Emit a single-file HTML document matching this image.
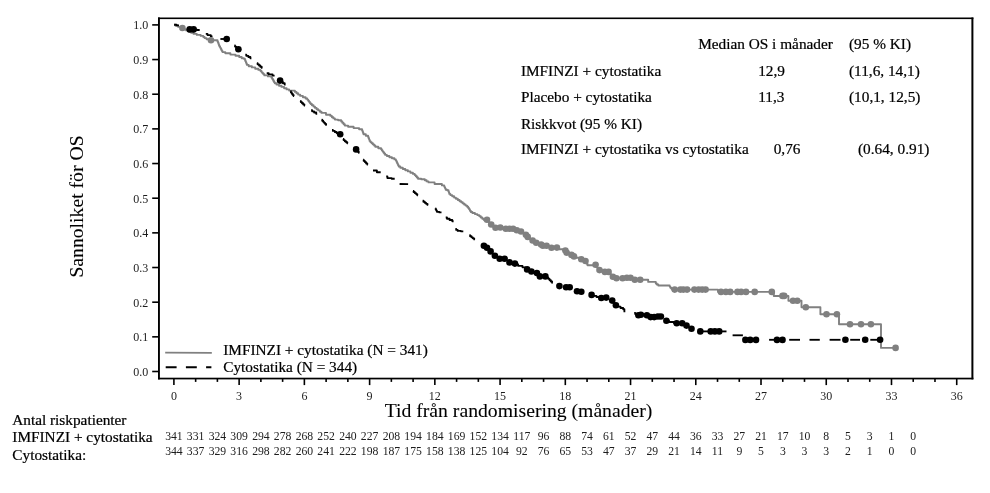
<!DOCTYPE html>
<html><head><meta charset="utf-8"><title>KM OS</title>
<style>html,body{margin:0;padding:0;background:#fff}body{width:990px;height:493px;overflow:hidden}svg{display:block;will-change:transform}text{font-family:"Liberation Serif",serif}.b{fill:#000;stroke:#000;stroke-width:0.22px}.t{fill:#1c1c1c;stroke:none}.h{fill:#000;stroke:#000;stroke-width:0.08px}</style></head><body>
<svg width="990" height="493" viewBox="0 0 990 493">
<rect width="990" height="493" fill="#fff"/>
<g fill="#000"><rect x="158.00" y="17.50" width="1.9" height="361.90"/><rect x="971.40" y="17.50" width="2.0" height="361.90"/><rect x="158.00" y="17.50" width="815.40" height="1.6"/><rect x="158.00" y="377.70" width="815.40" height="1.7"/></g>
<g stroke="#000" stroke-width="1.6">
<line x1="152.2" y1="371.50" x2="159.0" y2="371.50"/>
<line x1="152.2" y1="336.84" x2="159.0" y2="336.84"/>
<line x1="152.2" y1="302.18" x2="159.0" y2="302.18"/>
<line x1="152.2" y1="267.52" x2="159.0" y2="267.52"/>
<line x1="152.2" y1="232.86" x2="159.0" y2="232.86"/>
<line x1="152.2" y1="198.20" x2="159.0" y2="198.20"/>
<line x1="152.2" y1="163.54" x2="159.0" y2="163.54"/>
<line x1="152.2" y1="128.88" x2="159.0" y2="128.88"/>
<line x1="152.2" y1="94.22" x2="159.0" y2="94.22"/>
<line x1="152.2" y1="59.56" x2="159.0" y2="59.56"/>
<line x1="152.2" y1="24.90" x2="159.0" y2="24.90"/>
<line x1="173.90" y1="378.6" x2="173.90" y2="385.1"/>
<line x1="195.65" y1="378.6" x2="195.65" y2="381.9"/>
<line x1="217.39" y1="378.6" x2="217.39" y2="381.9"/>
<line x1="239.13" y1="378.6" x2="239.13" y2="385.1"/>
<line x1="260.88" y1="378.6" x2="260.88" y2="381.9"/>
<line x1="282.62" y1="378.6" x2="282.62" y2="381.9"/>
<line x1="304.37" y1="378.6" x2="304.37" y2="385.1"/>
<line x1="326.12" y1="378.6" x2="326.12" y2="381.9"/>
<line x1="347.86" y1="378.6" x2="347.86" y2="381.9"/>
<line x1="369.61" y1="378.6" x2="369.61" y2="385.1"/>
<line x1="391.35" y1="378.6" x2="391.35" y2="381.9"/>
<line x1="413.10" y1="378.6" x2="413.10" y2="381.9"/>
<line x1="434.84" y1="378.6" x2="434.84" y2="385.1"/>
<line x1="456.59" y1="378.6" x2="456.59" y2="381.9"/>
<line x1="478.33" y1="378.6" x2="478.33" y2="381.9"/>
<line x1="500.08" y1="378.6" x2="500.08" y2="385.1"/>
<line x1="521.82" y1="378.6" x2="521.82" y2="381.9"/>
<line x1="543.57" y1="378.6" x2="543.57" y2="381.9"/>
<line x1="565.31" y1="378.6" x2="565.31" y2="385.1"/>
<line x1="587.06" y1="378.6" x2="587.06" y2="381.9"/>
<line x1="608.80" y1="378.6" x2="608.80" y2="381.9"/>
<line x1="630.55" y1="378.6" x2="630.55" y2="385.1"/>
<line x1="652.29" y1="378.6" x2="652.29" y2="381.9"/>
<line x1="674.04" y1="378.6" x2="674.04" y2="381.9"/>
<line x1="695.78" y1="378.6" x2="695.78" y2="385.1"/>
<line x1="717.52" y1="378.6" x2="717.52" y2="381.9"/>
<line x1="739.27" y1="378.6" x2="739.27" y2="381.9"/>
<line x1="761.01" y1="378.6" x2="761.01" y2="385.1"/>
<line x1="782.76" y1="378.6" x2="782.76" y2="381.9"/>
<line x1="804.50" y1="378.6" x2="804.50" y2="381.9"/>
<line x1="826.25" y1="378.6" x2="826.25" y2="385.1"/>
<line x1="848.00" y1="378.6" x2="848.00" y2="381.9"/>
<line x1="869.74" y1="378.6" x2="869.74" y2="381.9"/>
<line x1="891.49" y1="378.6" x2="891.49" y2="385.1"/>
<line x1="913.23" y1="378.6" x2="913.23" y2="381.9"/>
<line x1="934.98" y1="378.6" x2="934.98" y2="381.9"/>
<line x1="956.72" y1="378.6" x2="956.72" y2="385.1"/>
</g>
<g font-size="12" text-anchor="end" class="t">
<text x="148.3" y="375.9">0.0</text>
<text x="148.3" y="341.2">0.1</text>
<text x="148.3" y="306.6">0.2</text>
<text x="148.3" y="271.9">0.3</text>
<text x="148.3" y="237.3">0.4</text>
<text x="148.3" y="202.6">0.5</text>
<text x="148.3" y="167.9">0.6</text>
<text x="148.3" y="133.3">0.7</text>
<text x="148.3" y="98.6">0.8</text>
<text x="148.3" y="64.0">0.9</text>
<text x="148.3" y="29.3">1.0</text>
</g>
<g font-size="12" text-anchor="middle" class="t">
<text x="173.9" y="399.6">0</text>
<text x="239.1" y="399.6">3</text>
<text x="304.4" y="399.6">6</text>
<text x="369.6" y="399.6">9</text>
<text x="434.8" y="399.6">12</text>
<text x="500.1" y="399.6">15</text>
<text x="565.3" y="399.6">18</text>
<text x="630.5" y="399.6">21</text>
<text x="695.8" y="399.6">24</text>
<text x="761.0" y="399.6">27</text>
<text x="826.2" y="399.6">30</text>
<text x="891.5" y="399.6">33</text>
<text x="956.7" y="399.6">36</text>
</g>
<text class="h" font-size="19.7" transform="translate(83.2,206.5) rotate(-90)" text-anchor="middle">Sannoliket för OS</text>
<text class="h" font-size="19.7" x="384.7" y="417.2">Tid från randomisering (månader)</text>
<g class="b" font-size="15.3">
<text x="698.2" y="48.7">Median OS i månader</text>
<text x="849" y="48.7">(95 % KI)</text>
<text x="520.9" y="75.5">IMFINZI + cytostatika</text>
<text x="758.2" y="75.5">12,9</text>
<text x="849" y="75.5">(11,6, 14,1)</text>
<text x="520.9" y="101.6">Placebo + cytostatika</text>
<text x="758.2" y="101.6">11,3</text>
<text x="849" y="101.6">(10,1, 12,5)</text>
<text x="520.9" y="128.8">Riskkvot (95 % KI)</text>
<text x="520.9" y="154.4">IMFINZI + cytostatika vs cytostatika</text>
<text x="773.7" y="154.4">0,76</text>
<text x="858" y="154.4">(0.64, 0.91)</text>
<text x="223.2" y="354.9">IMFINZI + cytostatika (N = 341)</text>
<text x="223.2" y="371.6">Cytostatika (N = 344)</text>
<text x="12.2" y="425.3">Antal riskpatienter</text>
<text x="12.3" y="441.9">IMFINZI + cytostatika</text>
<text x="12.3" y="459.9">Cytostatika:</text>
</g>
<g font-size="11.7" text-anchor="middle" class="t">
<text x="173.9" y="440.0">341</text><text x="173.9" y="454.7">344</text>
<text x="195.6" y="440.0">331</text><text x="195.6" y="454.7">337</text>
<text x="217.4" y="440.0">324</text><text x="217.4" y="454.7">329</text>
<text x="239.1" y="440.0">309</text><text x="239.1" y="454.7">316</text>
<text x="260.9" y="440.0">294</text><text x="260.9" y="454.7">298</text>
<text x="282.6" y="440.0">278</text><text x="282.6" y="454.7">282</text>
<text x="304.4" y="440.0">268</text><text x="304.4" y="454.7">260</text>
<text x="326.1" y="440.0">252</text><text x="326.1" y="454.7">241</text>
<text x="347.9" y="440.0">240</text><text x="347.9" y="454.7">222</text>
<text x="369.6" y="440.0">227</text><text x="369.6" y="454.7">198</text>
<text x="391.4" y="440.0">208</text><text x="391.4" y="454.7">187</text>
<text x="413.1" y="440.0">194</text><text x="413.1" y="454.7">175</text>
<text x="434.8" y="440.0">184</text><text x="434.8" y="454.7">158</text>
<text x="456.6" y="440.0">169</text><text x="456.6" y="454.7">138</text>
<text x="478.3" y="440.0">152</text><text x="478.3" y="454.7">125</text>
<text x="500.1" y="440.0">134</text><text x="500.1" y="454.7">104</text>
<text x="521.8" y="440.0">117</text><text x="521.8" y="454.7">92</text>
<text x="543.6" y="440.0">96</text><text x="543.6" y="454.7">76</text>
<text x="565.3" y="440.0">88</text><text x="565.3" y="454.7">65</text>
<text x="587.1" y="440.0">74</text><text x="587.1" y="454.7">53</text>
<text x="608.8" y="440.0">61</text><text x="608.8" y="454.7">47</text>
<text x="630.5" y="440.0">52</text><text x="630.5" y="454.7">37</text>
<text x="652.3" y="440.0">47</text><text x="652.3" y="454.7">29</text>
<text x="674.0" y="440.0">44</text><text x="674.0" y="454.7">21</text>
<text x="695.8" y="440.0">36</text><text x="695.8" y="454.7">14</text>
<text x="717.5" y="440.0">33</text><text x="717.5" y="454.7">11</text>
<text x="739.3" y="440.0">27</text><text x="739.3" y="454.7">9</text>
<text x="761.0" y="440.0">21</text><text x="761.0" y="454.7">5</text>
<text x="782.8" y="440.0">17</text><text x="782.8" y="454.7">3</text>
<text x="804.5" y="440.0">10</text><text x="804.5" y="454.7">3</text>
<text x="826.2" y="440.0">8</text><text x="826.2" y="454.7">3</text>
<text x="848.0" y="440.0">5</text><text x="848.0" y="454.7">2</text>
<text x="869.7" y="440.0">3</text><text x="869.7" y="454.7">1</text>
<text x="891.5" y="440.0">1</text><text x="891.5" y="454.7">0</text>
<text x="913.2" y="440.0">0</text><text x="913.2" y="454.7">0</text>
</g>
<line x1="165.2" y1="352.7" x2="211.8" y2="352.8" stroke="#808080" stroke-width="1.8"/>
<line x1="165.7" y1="367.3" x2="211.4" y2="367.3" stroke="#000" stroke-width="1.95" stroke-dasharray="10.9 9.3"/>
<polyline fill="none" stroke="#808080" stroke-width="1.9" stroke-linejoin="round" points="174.1,24.7 175.5,24.7 175.5,25.8 178.2,25.8 178.2,26.9 181.0,26.9 181.0,28.0 182.4,28.0 183.6,28.0 183.6,29.2 186.1,29.2 186.1,30.4 188.6,30.4 188.6,31.5 191.1,31.5 191.1,32.7 193.6,32.7 193.6,33.9 194.8,33.9 196.8,33.9 196.8,34.9 200.7,34.9 200.7,35.9 202.7,35.9 203.3,35.9 203.3,37.0 204.6,37.0 204.6,38.1 205.2,38.1 206.6,38.1 206.6,39.2 209.6,39.2 209.6,40.2 211.0,40.2 217.3,40.2 217.5,40.2 217.5,41.5 218.0,41.5 218.0,42.8 218.5,42.8 218.5,44.1 219.0,44.1 219.0,45.4 219.2,45.4 219.5,45.4 219.5,46.5 220.1,46.5 220.1,47.6 220.7,47.6 220.7,48.8 221.3,48.8 221.3,49.9 221.9,49.9 221.9,51.0 222.5,51.0 222.5,52.1 222.8,52.1 225.3,52.1 225.3,53.3 230.4,53.3 230.4,54.6 235.5,54.6 235.5,55.8 238.0,55.8 239.2,55.8 239.2,57.0 241.7,57.0 241.7,58.2 242.9,58.2 243.8,58.2 243.8,58.8 244.7,58.8 244.9,58.8 244.9,60.0 245.4,60.0 245.4,61.2 245.9,61.2 245.9,62.5 246.4,62.5 246.4,63.7 246.9,63.7 246.9,64.9 247.1,64.9 248.7,64.9 248.7,66.2 251.9,66.2 251.9,67.4 255.2,67.4 255.2,68.7 258.4,68.7 258.4,69.9 260.0,69.9 260.5,69.9 260.5,71.0 261.5,71.0 261.5,72.1 262.4,72.1 262.4,73.2 263.4,73.2 263.4,74.3 264.4,74.3 264.4,75.4 264.9,75.4 267.9,75.4 267.9,76.4 271.0,76.4 271.4,76.4 271.4,77.6 272.1,77.6 272.1,78.7 272.8,78.7 272.8,79.8 273.4,79.8 273.4,81.0 274.1,81.0 274.1,82.2 274.8,82.2 274.8,83.3 275.2,83.3 276.5,83.3 276.5,84.5 279.0,84.5 279.0,85.7 281.5,85.7 281.5,86.9 284.1,86.9 284.1,88.2 286.6,88.2 286.6,89.4 289.1,89.4 289.1,90.6 290.4,90.6 294.1,90.6 294.9,90.6 294.9,91.9 296.5,91.9 296.5,93.3 298.1,93.3 298.1,94.6 298.9,94.6 300.2,94.6 300.2,95.9 302.9,95.9 302.9,97.2 305.6,97.2 305.6,98.5 306.9,98.5 307.3,98.5 307.3,99.6 308.2,99.6 308.2,100.7 309.0,100.7 309.0,101.8 309.8,101.8 309.8,102.9 310.7,102.9 310.7,104.0 311.1,104.0 311.9,104.0 311.9,105.3 313.5,105.3 313.5,106.6 315.0,106.6 315.0,107.9 316.6,107.9 316.6,109.2 317.4,109.2 318.2,109.2 318.2,110.4 319.9,110.4 319.9,111.7 321.5,111.7 321.5,112.9 322.3,112.9 326.0,112.9 326.0,114.7 329.6,114.7 330.4,114.7 330.4,115.9 331.9,115.9 331.9,117.2 333.4,117.2 333.4,118.4 334.9,118.4 334.9,119.6 335.7,119.6 338.1,119.6 338.1,120.2 340.6,120.2 341.2,120.2 341.2,121.5 342.4,121.5 342.4,122.9 343.6,122.9 343.6,124.2 344.8,124.2 344.8,125.6 345.4,125.6 348.1,125.6 348.1,126.8 353.6,126.8 353.6,128.1 359.1,128.1 359.1,129.3 361.9,129.3 362.1,129.3 362.1,130.5 362.6,130.5 362.6,131.8 363.0,131.8 363.0,133.0 363.5,133.0 363.5,134.2 363.7,134.2 365.8,134.2 365.8,135.7 367.9,135.7 368.1,135.7 368.1,137.0 368.6,137.0 368.6,138.3 369.1,138.3 369.1,139.6 369.6,139.6 369.6,140.9 369.8,140.9 370.4,140.9 370.4,142.1 371.6,142.1 371.6,143.2 372.9,143.2 372.9,144.4 374.1,144.4 374.1,145.5 375.3,145.5 375.3,146.7 375.9,146.7 378.3,146.7 378.3,148.2 380.7,148.2 381.1,148.2 381.1,149.3 381.9,149.3 381.9,150.4 382.7,150.4 382.7,151.6 383.6,151.6 383.6,152.7 384.4,152.7 384.4,153.8 385.2,153.8 385.2,154.9 385.6,154.9 386.9,154.9 386.9,156.0 389.4,156.0 389.4,157.2 391.9,157.2 391.9,158.3 394.4,158.3 394.4,159.4 395.6,159.4 395.9,159.4 395.9,160.6 396.5,160.6 396.5,161.8 397.0,161.8 397.0,162.9 397.6,162.9 397.6,164.1 398.1,164.1 398.1,165.3 398.7,165.3 398.7,166.5 399.0,166.5 400.3,166.5 400.3,167.7 402.8,167.7 402.8,169.0 405.3,169.0 405.3,170.2 407.9,170.2 407.9,171.4 410.4,171.4 410.4,172.7 412.9,172.7 412.9,173.9 414.2,173.9 414.7,173.9 414.7,175.1 415.8,175.1 415.8,176.3 416.9,176.3 416.9,177.5 418.0,177.5 418.0,178.7 418.5,178.7 421.2,178.7 421.2,179.3 423.9,179.3 424.8,179.3 424.8,180.3 426.6,180.3 426.6,181.4 428.5,181.4 428.5,182.4 429.4,182.4 434.6,182.4 434.6,184.0 439.8,184.0 441.9,184.0 441.9,185.4 444.0,185.4 444.2,185.4 444.2,186.5 444.7,186.5 444.7,187.6 445.2,187.6 445.2,188.6 445.7,188.6 445.7,189.7 445.9,189.7 447.1,189.7 447.1,190.3 448.3,190.3 448.5,190.3 448.5,191.5 448.9,191.5 448.9,192.7 449.3,192.7 449.3,193.9 449.5,193.9 450.4,193.9 450.4,195.1 452.2,195.1 452.2,196.3 454.1,196.3 454.1,197.6 455.9,197.6 455.9,198.8 457.8,198.8 457.8,200.0 459.6,200.0 459.6,201.2 460.5,201.2 461.2,201.2 461.2,202.3 462.7,202.3 462.7,203.4 464.1,203.4 464.1,204.5 465.6,204.5 465.6,205.6 467.1,205.6 467.1,206.7 467.8,206.7 468.2,206.7 468.2,208.0 469.1,208.0 469.1,209.3 469.9,209.3 469.9,210.7 470.8,210.7 470.8,212.0 471.2,212.0 472.4,212.0 472.4,213.0 474.9,213.0 474.9,214.1 477.3,214.1 477.3,215.1 478.5,215.1 479.3,215.1 479.3,216.3 480.8,216.3 480.8,217.5 482.3,217.5 482.3,218.7 483.8,218.7 483.8,219.9 484.6,219.9 487.0,219.9 487.5,219.9 487.5,221.1 488.6,221.1 488.6,222.2 489.6,222.2 489.6,223.3 490.7,223.3 490.7,224.5 491.2,224.5 491.9,224.5 491.9,225.6 493.4,225.6 493.4,226.7 494.8,226.7 494.8,227.8 495.5,227.8 500.3,227.8 503.1,227.8 503.1,228.7 505.8,228.7 513.1,228.7 515.0,228.7 515.0,230.2 516.8,230.2 518.9,230.2 518.9,231.5 521.0,231.5 521.8,231.5 521.8,232.6 523.5,232.6 523.5,233.7 525.1,233.7 525.1,234.8 525.9,234.8 526.4,234.8 526.4,235.9 527.2,235.9 527.2,236.9 527.7,236.9 528.5,236.9 528.5,238.1 530.2,238.1 530.2,239.3 531.8,239.3 531.8,240.5 532.6,240.5 533.5,240.5 533.5,241.6 535.3,241.6 535.3,242.7 536.2,242.7 537.4,242.7 537.4,243.6 539.9,243.6 539.9,244.6 541.1,244.6 542.0,244.6 542.0,245.8 542.9,245.8 546.6,245.8 547.8,245.8 547.8,246.8 550.3,246.8 550.3,247.8 551.5,247.8 556.9,247.8 559.0,247.8 559.0,249.2 563.3,249.2 563.3,250.6 565.4,250.6 565.7,250.6 565.7,251.6 566.4,251.6 566.4,252.7 566.7,252.7 567.9,252.7 567.9,253.8 570.3,253.8 570.3,254.9 571.5,254.9 572.8,254.9 572.8,256.4 574.0,256.4 575.8,256.4 575.8,257.8 579.5,257.8 579.5,259.2 581.3,259.2 582.3,259.2 582.3,260.1 584.5,260.1 584.5,261.0 585.5,261.0 585.9,261.0 585.9,262.4 586.7,262.4 586.7,263.8 587.5,263.8 587.5,265.2 587.9,265.2 595.6,265.2 596.1,265.2 596.1,266.4 597.1,266.4 597.1,267.6 598.0,267.6 598.0,268.9 599.0,268.9 599.0,270.1 599.5,270.1 602.2,270.1 602.2,271.9 604.9,271.9 608.6,271.9 609.1,271.9 609.1,273.1 610.2,273.1 610.2,274.4 611.3,274.4 611.3,275.6 612.4,275.6 612.4,276.8 612.9,276.8 614.7,276.8 614.7,278.2 616.5,278.2 622.6,278.2 626.9,278.2 630.5,278.2 632.6,278.2 632.6,279.8 634.8,279.8 648.2,279.8 648.2,281.9 655.5,281.9 655.8,281.9 655.8,283.5 656.0,283.5 656.8,283.5 656.8,284.5 658.3,284.5 658.3,285.5 659.1,285.5 669.4,285.5 669.7,285.5 669.7,286.6 670.4,286.6 670.4,287.7 670.7,287.7 671.2,287.7 671.2,288.6 672.0,288.6 672.0,289.6 672.5,289.6 718.0,289.6 718.0,291.9 773.8,291.9 773.8,296.0 788.4,296.0 788.4,300.7 801.5,300.7 801.5,307.2 820.4,307.2 820.4,314.2 839.0,314.2 839.0,324.2 881.0,324.2 881.0,347.9 895.6,347.9"/>
<g fill="none" stroke="#000" stroke-width="1.85" stroke-linejoin="round">
<polyline points="174.1,24.7 176.6,24.7 176.6,25.3 179.0,25.3"/>
<polyline points="193.6,29.4 196.6,29.4 196.6,30.0 199.7,30.0"/>
<polyline points="205.8,33.9 207.5,33.9 207.5,35.1 210.8,35.1 210.8,36.3 212.5,36.3"/>
<polyline points="220.4,39.0 226.7,39.0"/>
<polyline points="234.4,45.4 235.0,45.4 235.0,46.6 236.2,46.6 236.2,47.9 236.8,47.9"/>
<polyline points="245.3,54.6 246.3,54.6 246.3,55.8 248.4,55.8 248.4,57.0 250.4,57.0 250.4,58.2 251.4,58.2"/>
<polyline points="256.9,63.1 257.6,63.1 257.6,64.3 259.0,64.3 259.0,65.5 260.3,65.5 260.3,66.7 261.7,66.7 261.7,67.9 262.4,67.9"/>
<polyline points="266.7,73.2 268.7,73.2 268.7,74.4 272.6,74.4 272.6,75.6 274.6,75.6"/>
<polyline points="280.1,80.6 281.0,80.6 281.0,81.9 282.9,81.9 282.9,83.2 284.7,83.2 284.7,84.5 285.6,84.5"/>
<polyline points="290.4,91.2 290.9,91.2 290.9,92.4 291.8,92.4 291.8,93.7 292.7,93.7 292.7,94.9 293.6,94.9 293.6,96.1 294.1,96.1"/>
<polyline points="300.2,100.9 300.8,100.9 300.8,102.1 302.0,102.1 302.0,103.2 303.2,103.2 303.2,104.4 304.4,104.4 304.4,105.6 305.0,105.6"/>
<polyline points="311.1,110.1 312.1,110.1 312.1,111.3 314.1,111.3 314.1,112.5 316.2,112.5 316.2,113.7 317.2,113.7"/>
<polyline points="321.7,119.6 322.2,119.6 322.2,120.7 323.2,120.7 323.2,121.8 324.1,121.8 324.1,122.8 325.1,122.8 325.1,123.9 326.1,123.9 326.1,125.0 326.6,125.0"/>
<polyline points="332.0,129.9 332.9,129.9 332.9,130.9 334.8,130.9 334.8,132.0 336.6,132.0 336.6,133.0 337.5,133.0 338.9,133.0 338.9,134.2 340.2,134.2"/>
<polyline points="343.0,139.0 343.6,139.0 343.6,140.1 344.8,140.1 344.8,141.2 346.1,141.2 346.1,142.2 347.3,142.2 347.3,143.3 347.9,143.3"/>
<polyline points="356.1,149.4 356.7,149.4 356.7,150.5 357.8,150.5 357.8,151.7 358.8,151.7 358.8,152.8 359.4,152.8"/>
<polyline points="363.1,159.7 363.7,159.7 363.7,160.9 364.9,160.9 364.9,162.1 366.1,162.1 366.1,163.4 367.3,163.4 367.3,164.6 367.9,164.6"/>
<polyline points="373.0,170.5 376.9,170.5 376.9,172.2 380.7,172.2"/>
<polyline points="386.2,176.3 387.4,176.3 387.4,178.1 388.7,178.1 391.7,178.1 391.7,178.7 394.7,178.7"/>
<polyline points="399.6,184.0 408.1,184.2"/>
<polyline points="413.0,190.9 413.6,190.9 413.6,192.0 414.8,192.0 414.8,193.1 416.1,193.1 416.1,194.1 417.3,194.1 417.3,195.2 417.9,195.2"/>
<polyline points="422.7,200.6 423.4,200.6 423.4,201.7 424.8,201.7 424.8,202.8 426.1,202.8 426.1,203.8 427.5,203.8 427.5,204.9 428.2,204.9"/>
<polyline points="435.4,208.3 435.7,208.3 435.7,209.5 436.3,209.5 436.3,210.6 436.9,210.6 436.9,211.8 437.2,211.8 439.4,211.8 439.4,212.4 441.5,212.4"/>
<polyline points="445.7,217.5 447.0,217.5 447.0,218.7 449.6,218.7 449.6,220.0 452.3,220.0 452.3,221.2 453.6,221.2"/>
<polyline points="455.4,228.8 456.2,228.8 456.2,229.9 457.7,229.9 457.7,230.9 458.5,230.9 460.9,230.9 460.9,231.3 463.3,231.3"/>
<polyline points="469.4,235.2 470.1,235.2 470.1,236.2 471.5,236.2 471.5,237.3 472.8,237.3 472.8,238.3 474.2,238.3 474.2,239.4 474.9,239.4"/>
<polyline points="516.0,264.5 518.2,264.5 518.2,265.9 522.5,265.9 522.5,267.3 524.7,267.3 525.3,267.3 525.3,268.4 526.5,268.4 526.5,269.4 527.1,269.4"/>
<polyline points="545.4,276.4 546.6,276.4 546.6,277.6 547.8,277.6 548.4,277.6 548.4,278.9 549.6,278.9 549.6,280.2 550.9,280.2 550.9,281.5 552.1,281.5 552.1,282.8 552.7,282.8"/>
<polyline points="591.6,294.9 593.2,294.9 593.2,295.9 596.5,295.9 596.5,297.0 599.7,297.0 599.7,298.0 601.3,298.0"/>
<polyline points="615.9,305.2 617.4,305.2 617.4,306.6 620.5,306.6 620.5,308.0 622.0,308.0 623.2,308.0 623.2,309.2 624.4,309.2 624.4,312.2"/>
<polyline points="634.2,312.9 635.2,312.9 635.2,314.1 637.4,314.1 637.4,315.3 638.4,315.3"/>
<polyline points="666.4,320.8 669.0,320.8 669.0,322.0 674.1,322.0 674.1,323.2 676.7,323.2"/>
<polyline points="700.3,331.4 726.5,331.4"/>
<polyline points="732.6,335.3 742.9,335.3"/>
<polyline points="769.1,339.8 782.5,339.8"/>
<polyline points="789.2,339.8 800.0,339.8"/>
<polyline points="809.5,339.8 819.8,339.8"/>
<polyline points="829.6,339.8 840.5,339.8"/>
<polyline points="850.2,339.8 860.0,339.8"/>
<polyline points="870.3,339.8 880.1,339.8"/>
</g>
<g fill="#808080">
<circle cx="182.4" cy="28.0" r="3.3"/>
<circle cx="211.0" cy="40.2" r="3.3"/>
<circle cx="487.0" cy="219.8" r="3.3"/>
<circle cx="491.2" cy="224.5" r="3.3"/>
<circle cx="495.5" cy="227.8" r="3.3"/>
<circle cx="500.3" cy="227.5" r="3.3"/>
<circle cx="505.8" cy="228.7" r="3.3"/>
<circle cx="509.5" cy="228.7" r="3.3"/>
<circle cx="513.1" cy="228.7" r="3.3"/>
<circle cx="516.8" cy="230.2" r="3.3"/>
<circle cx="521.0" cy="231.5" r="3.3"/>
<circle cx="525.9" cy="234.8" r="3.3"/>
<circle cx="527.7" cy="236.9" r="3.3"/>
<circle cx="532.6" cy="240.5" r="3.3"/>
<circle cx="536.2" cy="242.7" r="3.3"/>
<circle cx="541.1" cy="244.6" r="3.3"/>
<circle cx="542.9" cy="245.8" r="3.3"/>
<circle cx="546.6" cy="245.8" r="3.3"/>
<circle cx="551.5" cy="247.8" r="3.3"/>
<circle cx="556.9" cy="247.6" r="3.3"/>
<circle cx="565.4" cy="250.6" r="3.3"/>
<circle cx="566.7" cy="252.7" r="3.3"/>
<circle cx="571.5" cy="254.9" r="3.3"/>
<circle cx="574.0" cy="256.4" r="3.3"/>
<circle cx="581.3" cy="259.2" r="3.3"/>
<circle cx="585.5" cy="261.0" r="3.3"/>
<circle cx="595.6" cy="264.8" r="3.3"/>
<circle cx="599.5" cy="270.1" r="3.3"/>
<circle cx="604.9" cy="271.9" r="3.3"/>
<circle cx="608.6" cy="271.9" r="3.3"/>
<circle cx="612.9" cy="276.8" r="3.3"/>
<circle cx="616.5" cy="278.2" r="3.3"/>
<circle cx="622.6" cy="278.2" r="3.3"/>
<circle cx="626.9" cy="277.7" r="3.3"/>
<circle cx="630.5" cy="277.7" r="3.3"/>
<circle cx="634.8" cy="279.8" r="3.3"/>
<circle cx="640.2" cy="279.8" r="3.3"/>
<circle cx="674.7" cy="289.6" r="3.3"/>
<circle cx="680.4" cy="289.6" r="3.3"/>
<circle cx="683.4" cy="289.6" r="3.3"/>
<circle cx="687.1" cy="289.6" r="3.3"/>
<circle cx="694.4" cy="289.6" r="3.3"/>
<circle cx="698.6" cy="289.6" r="3.3"/>
<circle cx="702.2" cy="289.6" r="3.3"/>
<circle cx="705.6" cy="289.6" r="3.3"/>
<circle cx="721.0" cy="291.9" r="3.3"/>
<circle cx="725.9" cy="291.9" r="3.3"/>
<circle cx="730.2" cy="291.9" r="3.3"/>
<circle cx="737.5" cy="291.9" r="3.3"/>
<circle cx="741.1" cy="291.9" r="3.3"/>
<circle cx="746.0" cy="291.9" r="3.3"/>
<circle cx="754.7" cy="291.9" r="3.3"/>
<circle cx="771.8" cy="291.9" r="3.3"/>
<circle cx="782.5" cy="295.9" r="3.3"/>
<circle cx="784.2" cy="295.9" r="3.3"/>
<circle cx="793.0" cy="300.7" r="3.3"/>
<circle cx="797.3" cy="300.7" r="3.3"/>
<circle cx="805.8" cy="307.2" r="3.3"/>
<circle cx="826.5" cy="314.2" r="3.3"/>
<circle cx="836.9" cy="314.2" r="3.3"/>
<circle cx="850.0" cy="324.2" r="3.3"/>
<circle cx="861.0" cy="324.2" r="3.3"/>
<circle cx="870.9" cy="324.2" r="3.3"/>
<circle cx="895.6" cy="347.9" r="3.3"/>
</g>
<g fill="#000">
<circle cx="189.7" cy="29.4" r="3.3"/>
<circle cx="193.6" cy="29.4" r="3.3"/>
<circle cx="226.7" cy="39.0" r="3.3"/>
<circle cx="238.4" cy="49.3" r="3.3"/>
<circle cx="280.1" cy="80.6" r="3.3"/>
<circle cx="340.2" cy="134.2" r="3.3"/>
<circle cx="356.1" cy="149.4" r="3.3"/>
<circle cx="483.9" cy="245.7" r="3.3"/>
<circle cx="487.0" cy="247.8" r="3.3"/>
<circle cx="490.6" cy="251.4" r="3.3"/>
<circle cx="494.9" cy="255.7" r="3.3"/>
<circle cx="499.7" cy="258.7" r="3.3"/>
<circle cx="504.6" cy="258.7" r="3.3"/>
<circle cx="509.5" cy="262.4" r="3.3"/>
<circle cx="514.9" cy="263.6" r="3.3"/>
<circle cx="527.1" cy="269.4" r="3.3"/>
<circle cx="531.4" cy="271.5" r="3.3"/>
<circle cx="536.9" cy="273.0" r="3.3"/>
<circle cx="539.9" cy="276.4" r="3.3"/>
<circle cx="545.4" cy="276.4" r="3.3"/>
<circle cx="559.4" cy="286.1" r="3.3"/>
<circle cx="566.1" cy="287.3" r="3.3"/>
<circle cx="569.7" cy="287.3" r="3.3"/>
<circle cx="577.0" cy="291.2" r="3.3"/>
<circle cx="581.3" cy="291.8" r="3.3"/>
<circle cx="591.6" cy="294.9" r="3.3"/>
<circle cx="601.3" cy="298.0" r="3.3"/>
<circle cx="606.2" cy="297.6" r="3.3"/>
<circle cx="612.2" cy="300.6" r="3.3"/>
<circle cx="615.9" cy="305.2" r="3.3"/>
<circle cx="638.4" cy="315.3" r="3.3"/>
<circle cx="640.9" cy="314.7" r="3.3"/>
<circle cx="646.9" cy="315.3" r="3.3"/>
<circle cx="650.6" cy="317.1" r="3.3"/>
<circle cx="654.2" cy="317.1" r="3.3"/>
<circle cx="657.9" cy="316.5" r="3.3"/>
<circle cx="660.9" cy="316.5" r="3.3"/>
<circle cx="666.4" cy="320.8" r="3.3"/>
<circle cx="676.7" cy="323.2" r="3.3"/>
<circle cx="682.2" cy="323.2" r="3.3"/>
<circle cx="686.5" cy="325.6" r="3.3"/>
<circle cx="691.5" cy="328.8" r="3.3"/>
<circle cx="700.3" cy="331.4" r="3.3"/>
<circle cx="710.7" cy="331.4" r="3.3"/>
<circle cx="714.9" cy="331.4" r="3.3"/>
<circle cx="719.2" cy="331.4" r="3.3"/>
<circle cx="745.4" cy="339.9" r="3.3"/>
<circle cx="750.2" cy="339.9" r="3.3"/>
<circle cx="756.0" cy="339.9" r="3.3"/>
<circle cx="777.0" cy="339.9" r="3.3"/>
<circle cx="782.5" cy="339.9" r="3.3"/>
<circle cx="845.4" cy="339.8" r="3.3"/>
<circle cx="865.2" cy="339.8" r="3.3"/>
<circle cx="880.1" cy="339.8" r="3.3"/>
</g>
</svg></body></html>
